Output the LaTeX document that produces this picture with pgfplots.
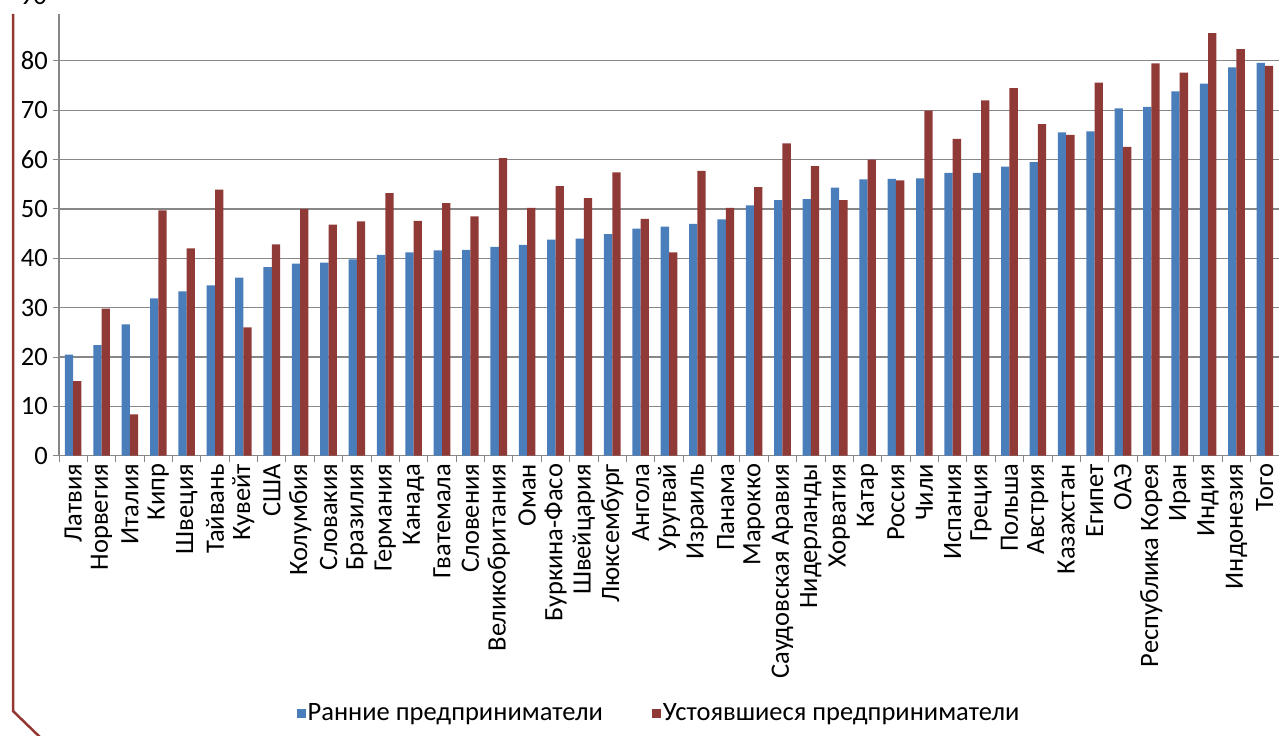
\documentclass[border=0pt]{standalone}
\usepackage{fontspec}
\setmainfont{Carlito}
\usepackage{pgfplots}
\usepackage{pgfplotstable}
\pgfplotsset{compat=1.18}
\usetikzlibrary{calc}
\definecolor{barblue}{HTML}{4A7EBB}
\definecolor{barred}{HTML}{903A38}
\definecolor{gridgray}{HTML}{878787}
\definecolor{framered}{HTML}{943634}
\pgfplotstableread{
x blue red
0 20.5 15.1
1 22.4 29.8
2 26.6 8.4
3 31.9 49.7
4 33.3 42.0
5 34.5 53.9
6 36.1 26.0
7 38.2 42.8
8 38.9 50.0
9 39.1 46.8
10 39.8 47.5
11 40.7 53.2
12 41.2 47.6
13 41.6 51.2
14 41.7 48.5
15 42.3 60.3
16 42.7 50.2
17 43.8 54.6
18 44.0 52.2
19 44.9 57.4
20 46.0 48.0
21 46.4 41.2
22 47.0 57.7
23 47.9 50.2
24 50.7 54.4
25 51.8 63.3
26 52.0 58.7
27 54.3 51.8
28 56.0 60.0
29 56.1 55.8
30 56.2 69.9
31 57.3 64.2
32 57.3 72.0
33 58.6 74.5
34 59.5 67.2
35 65.5 65.0
36 65.7 75.6
37 70.4 62.6
38 70.7 79.5
39 73.8 77.6
40 75.4 85.6
41 78.7 82.4
42 79.6 79.0
}\datatable
\begin{document}
\begin{tikzpicture}
\begin{axis}[name=ax, scale only axis, width=1220pt, height=441.7pt,
  xmin=-0.5, xmax=42.5, ymin=0, ymax=89.5,
  ybar=0pt, bar width=8.3pt,
  xtick={0,...,42},
  xticklabels={Латвия,Норвегия,Италия,Кипр,Швеция,Тайвань,Кувейт,США,Колумбия,Словакия,Бразилия,Германия,Канада,Гватемала,Словения,Великобритания,Оман,Буркина-Фасо,Швейцария,Люксембург,Ангола,Уругвай,Израиль,Панама,Марокко,Саудовская Аравия,Нидерланды,Хорватия,Катар,Россия,Чили,Испания,Греция,Польша,Австрия,Казахстан,Египет,ОАЭ,Республика Корея,Иран,Индия,Индонезия,Того},
  minor xtick={-0.5,0.5,...,42.5},
  ytick={0,10,...,80},
  major x tick style={draw=none},
  minor x tick style={draw=gridgray, line width=1pt},
  y tick style={draw=gridgray, line width=1pt},
  tick align=outside, major tick length=6pt, minor tick length=6pt,
  axis x line*=bottom, axis y line*=left,
  axis line style={draw=gridgray, line width=1.2pt, -},
  ymajorgrids, grid style={draw=gridgray, line width=1.2pt},
  tick label style={font=\fontsize{26.5}{31}\selectfont, text=black},
  x tick label style={rotate=90, anchor=east, inner xsep=2pt},
  y tick label style={inner xsep=5pt},
  /pgf/number format/assume math mode=true,
  legend columns=2,
  legend style={draw=none, fill=none, at={(0.4918,-0.5825)}, anchor=center,
    font=\fontsize{26.5}{31}\selectfont,
    /tikz/every even column/.append style={column sep=47pt}},
  legend image code/.code={\draw[#1,draw=none] (-2pt,-4.5pt) rectangle (7pt,4.5pt);},
]
\addplot[fill=barblue, draw=none] table[x=x, y=blue] {\datatable};
\addplot[fill=barred, draw=none] table[x=x, y=red] {\datatable};
\legend{Ранние предприниматели, Устоявшиеся предприниматели}
\end{axis}
\node[anchor=east, font=\fontsize{26.5}{31}\selectfont, inner sep=0pt] at ($(ax.north west)+(-12pt,18pt)$) {90};
\draw[framered, line width=2.5pt] ($(ax.north west)+(-46pt,0pt)$) -- ($(ax.south west)+(-46pt,-255.3pt)$) -- ++(30pt,-29pt);
\pgfresetboundingbox
\useasboundingbox ($(ax.south west)+(-59pt,-279.3pt)$) rectangle ($(ax.north east)+(0pt,14pt)$);
\end{tikzpicture}
\end{document}
